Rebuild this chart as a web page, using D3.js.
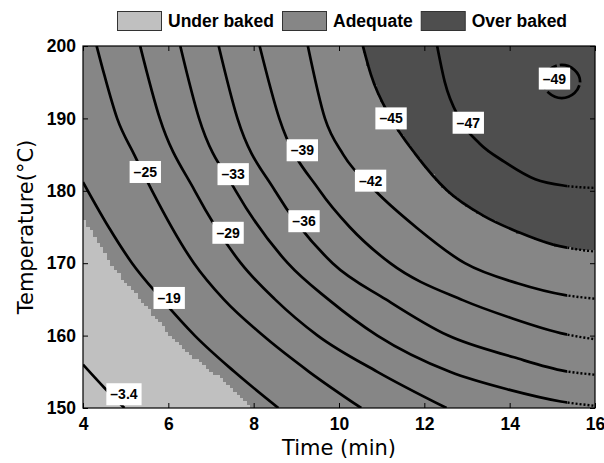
<!DOCTYPE html>
<html>
<head>
<meta charset="utf-8">
<script src="https://cdn.jsdelivr.net/npm/d3@7"></script>
<style>
  body { margin: 0; background: #fff; }
  text { font-family: "Liberation Sans", Arial, sans-serif; }
</style>
</head>
<body>
<div id="chart-area"></div>
<script>
// tick labels
const xTicks = [4, 6, 8, 10, 12, 14, 16];
const yTicks = [150, 160, 170, 180, 190, 200];

// legend categories
const categories = ['Under baked', 'Adequate', 'Over baked'];

// contour levels, and [time, temperature] points
const levels = [-3.4, -19, -25, -29, -33, -36, -39, -42, -45, -47, -49];
const contourM3_4 = [[4, 156], [4.5, 152.8], [4.97, 150]];
const contourM19 = [[4, 181.2], [4.6, 175], [5.15, 170], [5.85, 165], [6.62, 160], [7.55, 155], [8.58, 150]];
const contourM25 = [[4.32, 200], [4.5, 196], [4.8, 190], [5.2, 185], [5.62, 180], [6.6, 170], [7.3, 165], [8.22, 160], [9.3, 155], [10.52, 150]];
const contourM29 = [[5.34, 200], [5.8, 190], [6.62, 180], [7.7, 170], [8.5, 165], [9.5, 160], [10.9, 155], [12.52, 150]];
const contourM33 = [[6.28, 200], [6.72, 190], [7.58, 180], [8.8, 170], [9.75, 165], [10.9, 160], [12.6, 155], [14, 152.5], [15.2, 150.9], [16, 150.3]];
const contourM36 = [[7.18, 200], [7.62, 190], [8.5, 180], [9.85, 170], [11.1, 165], [12.56, 160], [14.1, 157], [15.3, 155.1], [16, 154.6]];
const contourM39 = [[8.14, 200], [8.6, 190], [9.55, 180], [10.25, 175], [11.2, 170], [12.9, 164.9], [14, 162.5], [15.3, 160.2], [16, 159.5]];
const contourM42 = [[9.27, 200], [9.67, 190], [10.1, 185], [10.85, 180], [11.8, 175], [12.95, 170], [14.2, 167.2], [15.3, 165.6], [16, 165.1]];
const contourM45 = [[10.56, 200], [10.75, 196], [11.22, 190], [11.8, 185], [12.54, 180], [13.4, 176.5], [14.2, 174.3], [15, 172.6], [15.6, 171.9], [16, 171.6]];
const contourM47 = [[12.3, 200], [12.48, 195], [12.82, 190], [13.3, 186.5], [13.88, 184], [14.6, 181.6], [15.29, 180.7], [16, 180.4]];
const contourM49 = [[15.65, 195.1], [15.52, 193.5], [15.22, 192.8], [14.92, 193.5], [14.79, 195.1], [14.92, 196.7], [15.22, 197.4], [15.52, 196.7]];

// edge of the under baked zone
const underBakedEdge = [[4, 176.2], [4.3, 173.5], [4.65, 170], [5.35, 165], [6.06, 160], [7.25, 153.9], [8, 150]];

// label centres, same order as levels
const labelTime = [4.96, 6.02, 5.46, 7.4, 7.52, 9.18, 9.14, 10.74, 11.22, 13.03, 15.05];
const labelTemp = [151.9, 165.2, 182.6, 174.2, 182.3, 175.8, 185.6, 181.4, 190, 189.4, 195.5];

const contourLines = [contourM3_4, contourM19, contourM25, contourM29, contourM33,
  contourM36, contourM39, contourM42, contourM45, contourM47];

const colors = ['#c0c0c0', '#868686', '#4e4e4e'];

const margin = { top: 46, right: 9, bottom: 55, left: 83 };
const width = 604 - margin.left - margin.right;
const height = 463 - margin.top - margin.bottom;

const svg = d3.select('#chart-area').append('svg')
  .attr('width', 604)
  .attr('height', 463);

const g = svg.append('g')
  .attr('transform', `translate(${margin.left}, ${margin.top})`);

const x = d3.scaleLinear().domain([4, 16]).range([0, width]);
const y = d3.scaleLinear().domain([150, 200]).range([height, 0]);

const defs = svg.append('defs');
defs.append('clipPath').attr('id', 'plot')
  .append('rect').attr('width', width).attr('height', height);
// contour lines turn dotted near the right edge
const dotFrom = x(15.35);
defs.append('clipPath').attr('id', 'solid')
  .append('rect').attr('width', dotFrom).attr('height', height);
defs.append('clipPath').attr('id', 'dots')
  .append('rect').attr('x', dotFrom).attr('width', width - dotFrom).attr('height', height);

const line = d3.line()
  .x(d => x(d[0]))
  .y(d => y(d[1]))
  .curve(d3.curveMonotoneX);

// turn a path into a list of pixel points
const samplePath = d => {
  const p = g.append('path').attr('d', d).attr('fill', 'none');
  const n = p.node();
  const len = n.getTotalLength();
  const pts = d3.range(0, len, 1).map(l => {
    const q = n.getPointAtLength(l);
    return [q.x, q.y];
  });
  const e = n.getPointAtLength(len);
  pts.push([e.x, e.y]);
  p.remove();
  return pts;
};

const underPoly = samplePath(line(underBakedEdge));
underPoly.push([-5, height + 5], [-5, y(underBakedEdge[0][1])]);
const overPoly = samplePath(line(contourM45));
overPoly.push([width + 5, overPoly[overPoly.length - 1][1]], [width + 5, -5], [overPoly[0][0], -5]);

const classify = (cx, cy) => {
  if (d3.polygonContains(underPoly, [cx, cy])) return 0;
  if (d3.polygonContains(overPoly, [cx, cy])) return 2;
  return 1;
};

// raster fill like the original image grid
const cols = 150, rows = 110;
const cw = width / cols, ch = height / rows;
const runs = [];
for (let r = 0; r < rows; r++) {
  const cy = (r + 0.5) * ch;
  let start = 0;
  let cls = classify(0.5 * cw, cy);
  for (let c = 1; c <= cols; c++) {
    const k = c < cols ? classify((c + 0.5) * cw, cy) : -1;
    if (k !== cls) {
      runs.push({ r, c0: start, c1: c, cls });
      start = c;
      cls = k;
    }
  }
}

const plot = g.append('g').attr('clip-path', 'url(#plot)');

plot.append('rect')
  .attr('width', width)
  .attr('height', height)
  .attr('fill', colors[1]);

plot.selectAll('rect.cell')
  .data(runs.filter(d => d.cls !== 1))
  .enter().append('rect')
  .attr('class', 'cell')
  .attr('x', d => d.c0 * cw)
  .attr('y', d => d.r * ch)
  .attr('width', d => (d.c1 - d.c0) * cw)
  .attr('height', ch)
  .attr('fill', d => colors[d.cls])
  .attr('shape-rendering', 'crispEdges');

// contour lines
plot.append('g').attr('clip-path', 'url(#solid)')
  .selectAll('path')
  .data(contourLines)
  .enter().append('path')
  .attr('d', line)
  .attr('fill', 'none')
  .attr('stroke', '#000')
  .attr('stroke-width', 2.7);

plot.append('g').attr('clip-path', 'url(#dots)')
  .selectAll('path')
  .data(contourLines)
  .enter().append('path')
  .attr('d', line)
  .attr('fill', 'none')
  .attr('stroke', '#000')
  .attr('stroke-width', 2.4)
  .attr('stroke-dasharray', '2,2');

plot.append('path')
  .datum(contourM49)
  .attr('d', d3.line().x(d => x(d[0])).y(d => y(d[1])).curve(d3.curveCardinalClosed))
  .attr('fill', 'none')
  .attr('stroke', '#000')
  .attr('stroke-width', 2.7)
  .attr('stroke-dasharray', '30,3');

// inline labels
const labels = g.selectAll('g.clabel')
  .data(levels)
  .enter().append('g')
  .attr('class', 'clabel')
  .attr('transform', (d, i) => `translate(${x(labelTime[i])}, ${y(labelTemp[i])})`);

labels.append('rect').attr('fill', '#fff');
labels.append('text')
  .attr('text-anchor', 'middle')
  .attr('dy', '0.36em')
  .attr('font-size', '14px')
  .attr('font-weight', 'bold')
  .text(d => '\u2013' + Math.abs(d));
labels.each(function () {
  const w = d3.select(this).select('text').node().getComputedTextLength() + 8;
  d3.select(this).select('rect')
    .attr('x', -w / 2).attr('y', -11)
    .attr('width', w).attr('height', 22);
});

// axes, ticks pointing inwards on all four sides
const styleAxis = sel => {
  sel.select('.domain').remove();
  sel.selectAll('line').attr('stroke', '#000');
  sel.selectAll('text')
    .attr('font-size', '17.5px')
    .attr('font-weight', 'bold')
    .attr('fill', '#000')
    .style('font-family', '"Liberation Sans", Arial, sans-serif');
};

g.append('g')
  .attr('transform', `translate(0, ${height})`)
  .call(d3.axisBottom(x).tickValues(xTicks).tickSizeInner(-5).tickSizeOuter(0).tickPadding(10))
  .call(styleAxis);

g.append('g')
  .call(d3.axisLeft(y).tickValues(yTicks).tickSizeInner(-5).tickSizeOuter(0).tickPadding(7))
  .call(styleAxis);

g.append('g')
  .call(d3.axisTop(x).tickValues(xTicks).tickSizeInner(-5).tickSizeOuter(0).tickFormat(''))
  .call(styleAxis);

g.append('g')
  .attr('transform', `translate(${width}, 0)`)
  .call(d3.axisRight(y).tickValues(yTicks).tickSizeInner(-5).tickSizeOuter(0).tickFormat(''))
  .call(styleAxis);

g.append('rect')
  .attr('width', width)
  .attr('height', height)
  .attr('fill', 'none')
  .attr('stroke', '#000')
  .attr('stroke-width', 1.2);

// axis titles
svg.append('text')
  .attr('x', margin.left + width / 2)
  .attr('y', 455)
  .attr('text-anchor', 'middle')
  .attr('font-size', '21px')
  .style('font-family', '"DejaVu Sans", sans-serif')
  .text('Time (min)');

svg.append('text')
  .attr('transform', `translate(33, ${margin.top + height / 2}) rotate(-90)`)
  .attr('text-anchor', 'middle')
  .attr('font-size', '21px')
  .style('font-family', '"DejaVu Sans", sans-serif')
  .text('Temperature(\u00B0C)');

// legend
const legend = svg.append('g').attr('transform', 'translate(117, 11)');
let lx = 0;
categories.forEach((c, i) => {
  legend.append('rect')
    .attr('x', lx + 0.5).attr('y', 0.5)
    .attr('width', 44).attr('height', 19)
    .attr('fill', colors[i])
    .attr('stroke', '#333');
  const t = legend.append('text')
    .attr('x', lx + 51)
    .attr('y', 16)
    .attr('font-size', '17.5px')
    .attr('font-weight', 'bold')
    .text(c);
  lx += 51 + t.node().getComputedTextLength() + 8;
});
</script>
</body>
</html>
